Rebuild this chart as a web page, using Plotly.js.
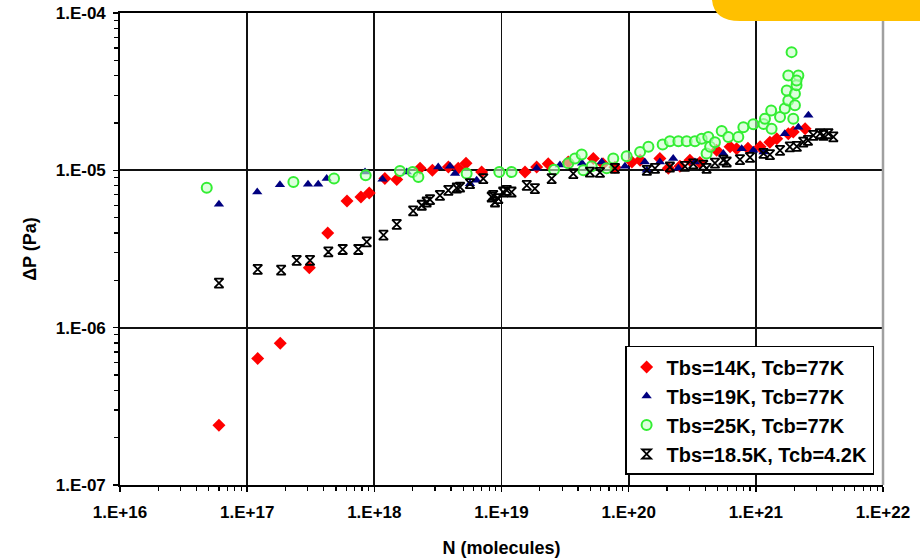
<!DOCTYPE html>
<html><head><meta charset="utf-8">
<script src="https://cdn.plot.ly/plotly-3.0.1.min.js"></script>
<style>html,body{margin:0;padding:0;background:#fff}</style>
</head><body><div id="chart" style="width:920px;height:560px"></div>
<script>
// Series: Tbs=14K, Tcb=77K
const redN = [6.0e16,1.21e17,1.82e17,3.08e17,4.30e17,6.10e17,7.85e17,9.12e17,1.21e18,1.50e18,2.29e18,2.86e18,3.82e18,4.57e18,5.26e18,6.98e18,1.53e19,1.89e19,2.33e19,3.35e19,5.27e19,6.28e19,7.80e19,1.06e20,1.23e20,1.76e20,2.05e20,2.53e20,3.03e20,3.63e20,4.92e20,6.27e20,7.06e20,8.67e20,1.08e21,1.29e21,1.46e21,1.80e21,1.97e21,2.44e21];
const redP = [2.40e-7,6.37e-7,7.97e-7,2.40e-6,4.0e-6,6.38e-6,6.77e-6,7.18e-6,8.86e-6,8.73e-6,1.03e-5,1.0e-5,1.05e-5,1.03e-5,1.11e-5,9.75e-6,9.75e-6,1.05e-5,1.10e-5,1.13e-5,1.19e-5,1.10e-5,1.045e-5,1.13e-5,1.16e-5,1.19e-5,1.03e-5,1.06e-5,1.16e-5,1.12e-5,1.34e-5,1.41e-5,1.37e-5,1.38e-5,1.41e-5,1.51e-5,1.59e-5,1.71e-5,1.75e-5,1.84e-5];
// Series: Tbs=19K, Tcb=77K
const blueN = [6.0e16,1.20e17,1.81e17,3.01e17,3.62e17,4.22e17,8.45e17,1.16e18,1.80e18,3.18e18,3.94e18,4.31e18,5.65e18,6.38e18,1.89e19,2.88e19,4.30e19,6.14e19,9.35e19,1.34e20,1.39e20,1.76e20,2.24e20,2.46e20,3.32e20,5.55e20,7.74e20,9.55e20,1.15e21,1.69e21,2.16e21,2.59e21];
const blueP = [6.08e-6,7.28e-6,8.11e-6,8.15e-6,8.15e-6,8.86e-6,9.75e-6,8.77e-6,9.75e-6,1.05e-5,1.06e-5,9.53e-6,8.23e-6,8.64e-6,1.03e-5,1.08e-5,1.11e-5,1.13e-5,1.06e-5,1.13e-5,1.0e-5,1.13e-5,1.19e-5,1.03e-5,1.13e-5,1.28e-5,1.37e-5,1.34e-5,1.31e-5,1.71e-5,1.88e-5,2.24e-5];
// Series: Tbs=25K, Tcb=77K
const greenN = [4.81e16,2.31e17,4.82e17,8.55e17,1.59e18,2.0e18,2.22e18,5.32e18,9.61e18,1.20e19,2.59e19,3.35e19,3.78e19,4.27e19,4.40e19,5.12e19,6.71e19,7.57e19,9.64e19,1.23e20,1.43e20,1.85e20,2.11e20,2.46e20,2.86e20,3.32e20,3.75e20,4.23e20,4.10e20,4.37e20,4.77e20,5.39e20,6.08e20,7.28e20,7.98e20,9.55e20,1.15e21,1.18e21,1.33e21,1.32e21,1.55e21,1.69e21,1.80e21,1.75e21,2.03e21,1.97e21,2.03e21,2.09e21,1.80e21,2.16e21,1.91e21,2.09e21];
const greenP = [7.76e-6,8.43e-6,8.86e-6,9.29e-6,9.9e-6,9.75e-6,9.07e-6,9.53e-6,9.75e-6,9.75e-6,1.01e-5,1.11e-5,1.19e-5,1.26e-5,1.0e-5,1.06e-5,1.03e-5,1.19e-5,1.23e-5,1.31e-5,1.41e-5,1.46e-5,1.53e-5,1.53e-5,1.53e-5,1.53e-5,1.59e-5,1.63e-5,1.28e-5,1.41e-5,1.51e-5,1.78e-5,1.63e-5,1.63e-5,1.88e-5,1.96e-5,1.97e-5,2.13e-5,1.84e-5,2.40e-5,2.18e-5,2.47e-5,2.78e-5,3.22e-5,2.59e-5,2.13e-5,3.07e-5,3.47e-5,4.01e-5,4.01e-5,5.64e-5,3.72e-5];
// Series: Tbs=18.5K, Tcb=4.2K
const blackN = [6.0e16,1.21e17,1.85e17,2.45e17,3.12e17,4.35e17,5.64e17,7.48e17,8.71e17,1.18e18,1.50e18,2.02e18,2.36e18,2.58e18,2.74e18,3.28e18,3.82e18,4.45e18,4.72e18,5.65e18,7.19e18,8.37e18,8.89e18,8.6e18,9.44e18,1.03e19,1.10e19,1.20e19,1.58e19,1.83e19,2.48e19,3.67e19,4.96e19,7.80e19,1.39e20,2.11e20,3.22e20,4.10e20,3.86e20,5.55e20,5.90e20,9.0e20,1.15e21,1.55e21,1.85e21,2.36e21,2.83e21,3.19e21,3.40e21,3.72e21,4.07e21,5.94e19,1.61e20,2.77e20,4.77e20,7.5e20,1.29e21,2.10e21,2.57e21];
const blackP = [1.92e-6,2.35e-6,2.32e-6,2.68e-6,2.68e-6,3.03e-6,3.14e-6,3.14e-6,3.51e-6,3.87e-6,4.54e-6,5.52e-6,6.0e-6,6.29e-6,6.52e-6,6.94e-6,7.46e-6,7.72e-6,7.83e-6,8.23e-6,8.86e-6,6.77e-6,6.29e-6,6.94e-6,6.61e-6,7.28e-6,7.46e-6,7.28e-6,8.03e-6,7.65e-6,8.86e-6,9.53e-6,9.75e-6,1.03e-5,1.0e-5,1.05e-5,1.10e-5,1.03e-5,1.08e-5,1.16e-5,1.13e-5,1.21e-5,1.28e-5,1.34e-5,1.41e-5,1.51e-5,1.67e-5,1.71e-5,1.67e-5,1.71e-5,1.63e-5,9.71e-6,1.03e-5,1.06e-5,1.11e-5,1.17e-5,1.26e-5,1.42e-5,1.55e-5];

const seriesNames = ['Tbs=14K, Tcb=77K','Tbs=19K, Tcb=77K','Tbs=25K, Tcb=77K','Tbs=18.5K, Tcb=4.2K'];
const xTickVals = [1e16,1e17,1e18,1e19,1e20,1e21,1e22];
const xTickText = ['1.E+16','1.E+17','1.E+18','1.E+19','1.E+20','1.E+21','1.E+22'];
const yTickVals = [1e-7,1e-6,1e-5,1e-4];
const yTickText = ['1.E-07','1.E-06','1.E-05','1.E-04'];

function minorVals(lo, hi){ const out=[]; for(let e=lo;e<hi;e++){ for(let m=2;m<=9;m++) out.push(m*Math.pow(10,e)); } return out; }

const FONT = 'Liberation Sans, Arial, sans-serif';

const traces = [
  {x: redN, y: redP, name: seriesNames[0], legendgroup:'a', mode:'markers', type:'scatter',
   marker:{symbol:'diamond', size:10, color:'#ff0000', line:{width:0}}},
  {x: blueN, y: blueP, name: seriesNames[1], legendgroup:'b', mode:'markers', type:'scatter',
   marker:{symbol:'triangle-up', size:9, color:'#000080', line:{width:0}}},
  {x: greenN, y: greenP, name: seriesNames[2], legendgroup:'c', mode:'markers', type:'scatter',
   marker:{symbol:'circle', size:10, color:'rgba(200,255,200,0.6)', line:{width:2, color:'#33ee33'}}},
  {x: blackN, y: blackP, name: seriesNames[3], legendgroup:'d', mode:'markers', type:'scatter',
   marker:{symbol:'hourglass-open', size:9, color:'#000000', line:{width:1.8, color:'#000000'}}}
];

const axisCommon = {
  type:'log', showgrid:true, gridcolor:'#111', gridwidth:1.8,
  showline:true, linecolor:'#000', linewidth:1.8,
  ticks:'outside', ticklen:5, tickwidth:1.5, tickcolor:'#000',
  tickmode:'array', zeroline:false,
  tickfont:{family:FONT, size:17, color:'#000', weight:700}
};

const layout = {
  width:920, height:560,
  margin:{l:120, r:37, t:13, b:75},
  paper_bgcolor:'#fff', plot_bgcolor:'#fff',
  showlegend:true,
  xaxis: Object.assign({}, axisCommon, {
    range:[16,22], tickvals:xTickVals, ticktext:xTickText, mirror:true,
    ticklabelstandoff:6,
    minor:{tickvals:minorVals(16,22), ticks:'outside', ticklen:4, tickwidth:1.2, tickcolor:'#000', showgrid:false},
    title:{text:'N (molecules)', font:{family:FONT, size:18, color:'#000', weight:700}, standoff:20}
  }),
  yaxis: Object.assign({}, axisCommon, {
    range:[-7,-4], tickvals:yTickVals, ticktext:yTickText, mirror:false,
    ticklabelstandoff:4,
    minor:{tickvals:minorVals(-7,-4), ticks:'outside', ticklen:4, tickwidth:1.2, tickcolor:'#000', showgrid:false},
    title:{text:'ΔP (Pa)', font:{family:FONT, size:18, color:'#000', weight:700}, standoff:14}
  }),
  legend:{
    x:0.662, y:0.2945, xanchor:'left', yanchor:'top',
    bgcolor:'#fff', bordercolor:'#000', borderwidth:1.5,
    font:{family:FONT, size:20, color:'#000', weight:700},
    traceorder:'grouped', tracegroupgap:0
  },
  shapes:[
    {type:'line', xref:'paper', yref:'paper', x0:1, x1:1, y0:0, y1:1, layer:'above',
     line:{color:'#a0a0a0', width:2.5}},
    {type:'path', xref:'paper', yref:'paper', layer:'above', fillcolor:'#FFC000', line:{width:0},
     path:'M 0.7759,1.06 L 0.7759,1.0275 Q 0.7785,0.983 0.8126,0.983 L 1.07,0.983 L 1.07,1.06 Z'}
  ]
};

Plotly.newPlot('chart', traces, layout, {displayModeBar:false, staticPlot:true});
</script>
</body></html>
